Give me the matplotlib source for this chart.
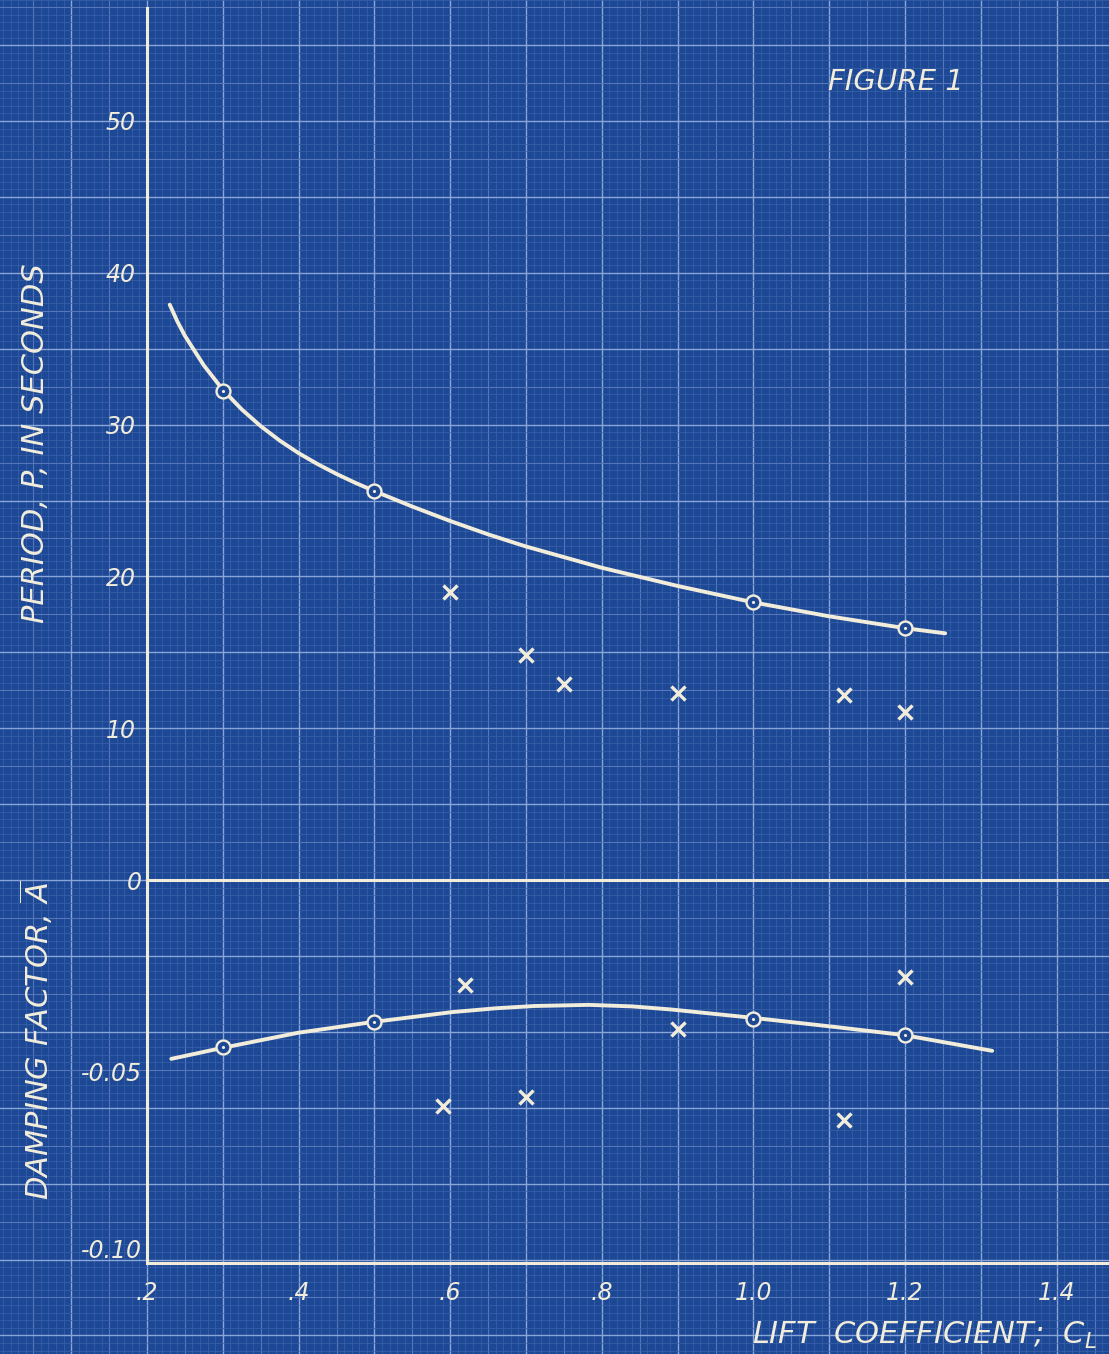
#%% Blueprint style chart: period and damping vs lift coefficient
import matplotlib
matplotlib.use('Agg')
import matplotlib.pyplot as plt
from matplotlib.ticker import FixedLocator
import numpy as np

#%% Data
# period, faired curve + calculated (circles) + flight (crosses)
cl_period_curve = [0.230, 0.240, 0.250, 0.275, 0.300, 0.325, 0.350, 0.375, 0.400, 0.425,
                   0.450, 0.475, 0.500, 0.550, 0.600, 0.650, 0.700, 0.800, 0.900, 1.000,
                   1.100, 1.200, 1.253]
period_curve = [37.9, 36.8, 35.85, 33.9, 32.3, 31.0, 29.9, 28.95, 28.12, 27.4,
                26.75, 26.16, 25.62, 24.6, 23.65, 22.77, 21.97, 20.57, 19.37, 18.29,
                17.37, 16.59, 16.25]
cl_period_calc = [0.3, 0.5, 1.0, 1.2]
period_calc = [32.2, 25.6, 18.3, 16.6]
cl_period_flight = [0.60, 0.70, 0.75, 0.90, 1.12, 1.20]
period_flight = [19.0, 14.8, 12.9, 12.3, 12.2, 11.1]

# damping factor
cl_damp_curve = [0.232, 0.298, 0.399, 0.497, 0.602, 0.660, 0.711, 0.783, 0.840, 0.891,
                 1.000, 1.109, 1.199, 1.315]
damp_curve = [-0.0467, -0.0439, -0.0399, -0.0371, -0.0345, -0.0335, -0.0329, -0.0326,
              -0.0330, -0.0338, -0.0360, -0.0384, -0.0405, -0.0446]
cl_damp_calc = [0.3, 0.5, 1.0, 1.2]
damp_calc = [-0.0436, -0.0371, -0.0363, -0.0405]
cl_damp_flight = [0.62, 1.20, 0.90, 0.59, 0.70, 1.12]
damp_flight = [-0.0274, -0.0253, -0.0389, -0.0590, -0.0567, -0.0627]

x_ticks = [0.2, 0.4, 0.6, 0.8, 1.0, 1.2, 1.4]
x_ticklabels = ['.2', '.4', '.6', '.8', '1.0', '1.2', '1.4']
period_ticks = [10, 20, 30, 40, 50]
damp_ticks = [0, -0.05, -0.10]
damp_ticklabels = ['0', '-0.05', '-0.10']

#%% Styles
blue = '#1d4896'
ink = '#f2eddb'
W, H = 1109, 1354
x0_px, zero_px, base_px = 147, 880, 1263   # axis positions in pixels
px_per_cl = 758.0                            # pixels per unit of C_L
px_per_sec = 15.18                           # pixels per second of period

plt.rcParams['font.family'] = 'DejaVu Sans'
plt.rcParams['font.style'] = 'italic'
plt.rcParams['mathtext.fontset'] = 'dejavusans'

fig = plt.figure(figsize=(W / 100, H / 100), dpi=100, facecolor=blue)

x_left = 0.2 - x0_px / px_per_cl
x_right = 0.2 + (W - x0_px) / px_per_cl

#%% Background: blueprint paper grid
bg = fig.add_axes([0, 0, 1, 1])
bg.set_facecolor(blue)
bg.set_xlim(x_left, x_right)
bg.set_ylim(-(H - zero_px) / px_per_sec, zero_px / px_per_sec)
for s in bg.spines.values():
    s.set_visible(False)
bg.set_xticks([])
bg.set_yticks([])

gx = np.round(np.arange(-0.2, 1.6, 0.01), 3)
gy = np.round(np.arange(-40, 70, 0.5), 2)
for g in gx:
    k = int(round(g * 100))
    if k % 10 == 0:
        c, lw = '#8aa6d8', 1.0
    elif k % 5 == 0:
        c, lw = '#5577b8', 0.8
    else:
        c, lw = '#3a62aa', 0.5
    bg.axvline(g, color=c, lw=lw, zorder=0)
for g in gy:
    k = int(round(g * 2))
    if k % 10 == 0:
        c, lw = '#8aa6d8', 1.0
    elif k % 5 == 0:
        c, lw = '#5577b8', 0.8
    else:
        c, lw = '#3a62aa', 0.5
    bg.axhline(g, color=c, lw=lw, zorder=0)

#%% Period axes (upper)
top_px = 8
ax1 = fig.add_axes([x0_px / W, (H - zero_px) / H, (W - x0_px) / W, (zero_px - top_px) / H])
ax1.patch.set_alpha(0)
ax1.set_xlim(0.2, x_right)
ax1.set_ylim(0, (zero_px - top_px) / px_per_sec)
ax1.plot(cl_period_curve, period_curve, color=ink, lw=2.8, solid_capstyle='round',
         solid_joinstyle='round')
ax1.plot(cl_period_calc, period_calc, 'o', ms=10, mfc=blue, mec=ink, mew=1.7)
ax1.plot(cl_period_calc, period_calc, '.', ms=2.5, color=ink)
ax1.plot(cl_period_flight, period_flight, 'x', ms=10, mec=ink, mew=2.4)

ax1.set_yticks(period_ticks)
ax1.set_yticklabels([str(t) for t in period_ticks])
ax1.set_xticks([])
ax1.tick_params(axis='y', length=0, pad=8, labelsize=17, labelcolor=ink)
for side in ['top', 'right']:
    ax1.spines[side].set_visible(False)
for side in ['left', 'bottom']:
    ax1.spines[side].set_color(ink)
    ax1.spines[side].set_linewidth(2.2)

#%% Damping axes (lower)
ax2 = fig.add_axes([x0_px / W, (H - base_px) / H, (W - x0_px) / W, (base_px - zero_px) / H])
ax2.patch.set_alpha(0)
ax2.set_xlim(0.2, x_right)
ax2.set_ylim(-0.10, 0)
ax2.plot(cl_damp_curve, damp_curve, color=ink, lw=2.8, solid_capstyle='round',
         solid_joinstyle='round')
ax2.plot(cl_damp_calc, damp_calc, 'o', ms=10, mfc=blue, mec=ink, mew=1.7)
ax2.plot(cl_damp_calc, damp_calc, '.', ms=2.5, color=ink)
ax2.plot(cl_damp_flight, damp_flight, 'x', ms=10, mec=ink, mew=2.4)

ax2.yaxis.set_major_locator(FixedLocator(damp_ticks))
ax2.set_yticklabels(damp_ticklabels)
ax2.set_xticks(x_ticks)
ax2.set_xticklabels(x_ticklabels)
ax2.tick_params(axis='both', length=0, labelsize=17, labelcolor=ink)
ax2.tick_params(axis='y', pad=4)
ax2.tick_params(axis='x', pad=13)
ax2.get_yticklabels()[2].set_va('bottom')
ax2.spines['top'].set_visible(False)
ax2.spines['right'].set_visible(False)
for side in ['left', 'bottom']:
    ax2.spines[side].set_color(ink)
    ax2.spines[side].set_linewidth(2.2)

#%% Lettering
fig.text(36 / W, 1 - 443 / H, 'PERIOD, P, IN SECONDS', rotation=90, color=ink,
         fontsize=22, ha='center', va='center')
fig.text(36 / W, 1 - 1040 / H, 'DAMPING FACTOR, $\\overline{A}$', rotation=90, color=ink,
         fontsize=22, ha='center', va='center')
fig.text(1097 / W, 1 - 1335 / H, 'LIFT  COEFFICIENT;  $C_L$', color=ink,
         fontsize=22, ha='right', va='center')
fig.text(896 / W, 1 - 82 / H, 'FIGURE 1', color=ink, fontsize=21, ha='center', va='center')

fig.savefig('out.png', dpi=100, facecolor=blue)
